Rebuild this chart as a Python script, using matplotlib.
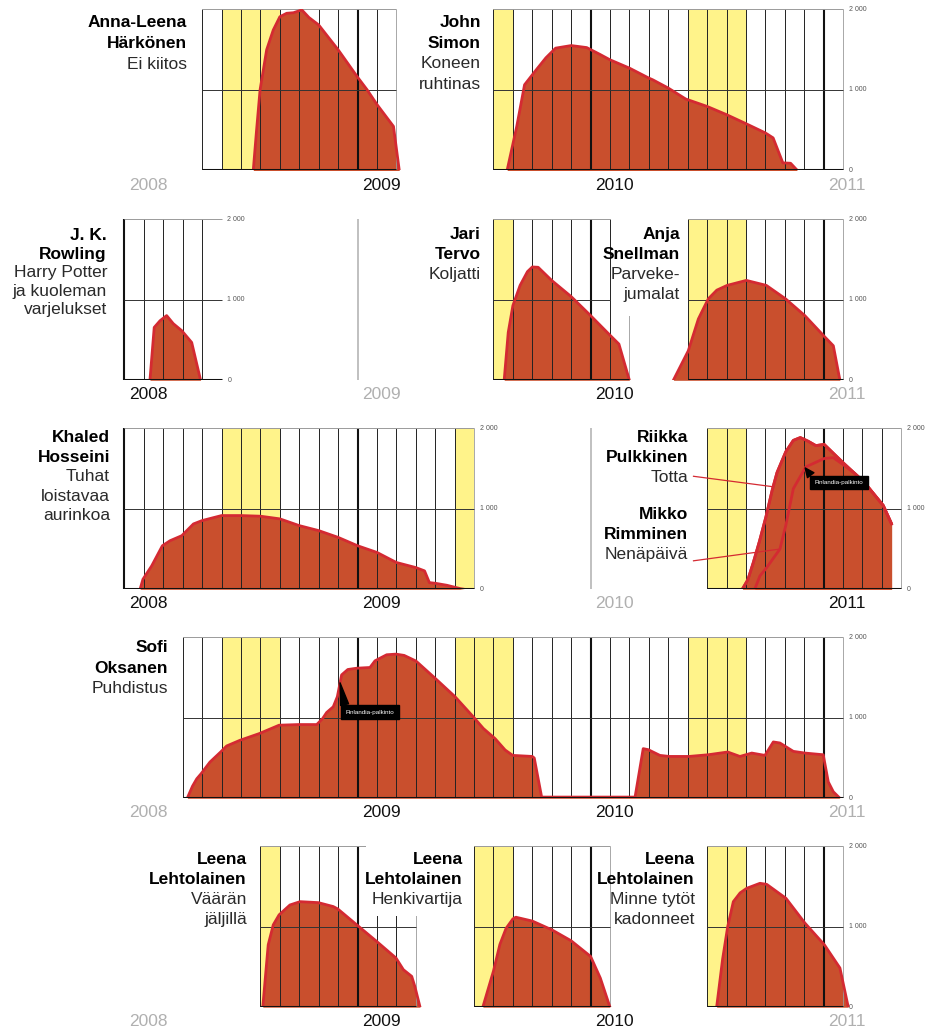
import numpy as np
import matplotlib
matplotlib.use('Agg')
import matplotlib.pyplot as plt
from matplotlib.patches import Rectangle

plt.rcParams['font.family'] = ['Liberation Sans Narrow', 'Liberation Sans', 'DejaVu Sans']

# months counted from 1.1.2008 (0 = Jan 2008, 12 = Jan 2009 ...), sales per week
harkonen_m = [6.63, 6.8, 6.98, 7.32, 7.66, 8.0, 8.35, 8.7, 9.13, 9.5, 10.0, 11.0, 12.0, 12.5, 13.0, 13.5, 13.85, 14.15]
harkonen_v = [0, 500, 1000, 1500, 1745, 1910, 1953, 1960, 1995, 1900, 1808, 1500, 1160, 1000, 820, 660, 548, 0]

simon_m = [19.7, 20.2, 20.6, 21.2, 21.7, 22.2, 23.0, 23.8, 24.5, 25.0, 26.0, 27.0, 27.2, 28.0, 28.9, 30.0, 31.0, 32.0, 33.0, 33.4, 33.9, 34.3, 34.65]
simon_v = [0, 550, 1065, 1250, 1400, 1520, 1552, 1527, 1440, 1375, 1272, 1148, 1127, 1024, 888, 796, 694, 582, 467, 405, 95, 90, 0]

rowling_m = [1.31, 1.53, 1.83, 2.17, 2.51, 2.95, 3.46, 3.92]
rowling_v = [0, 657, 740, 804, 704, 616, 470, 0]

tervo_m = [19.55, 19.76, 20.0, 20.37, 20.75, 21.0, 21.3, 22.0, 23.0, 24.0, 25.0, 25.46, 26.0]
tervo_v = [0, 595, 929, 1179, 1350, 1408, 1404, 1240, 1040, 804, 560, 450, 0]

snellman_m = [28.26, 29.03, 29.55, 30.06, 30.5, 31.03, 32.02, 33.05, 34.04, 35.03, 36.0, 36.5, 36.84]
snellman_v = [0, 366, 762, 1012, 1120, 1179, 1241, 1179, 1012, 804, 554, 429, 0]

hosseini_m = [0.8, 0.95, 1.4, 1.95, 2.35, 2.95, 3.55, 4.0, 5.0, 6.0, 7.0, 8.0, 9.0, 10.0, 11.0, 12.0,
              13.0, 14.0, 15.0, 15.45, 15.7, 16.0, 16.6, 17.3, 17.5]
hosseini_v = [0, 125, 291, 541, 604, 666, 812, 854, 916, 916, 908, 875, 791, 729, 645, 541,
              458, 333, 270, 229, 83, 75, 50, 8, 0]

pulkkinen_m = [31.81, 32.1, 32.38, 32.7, 33.03, 33.35, 33.6, 34.05, 34.44, 34.8, 35.2, 35.6, 36.03, 37.05, 38.08, 39.07, 39.5]
pulkkinen_v = [0, 120, 333, 600, 900, 1230, 1450, 1708, 1850, 1885, 1840, 1785, 1800, 1562, 1333, 1041, 812]

rimminen_m = [32.45, 32.72, 33.07, 33.75, 34.05, 34.44, 35.08, 36.03, 36.5, 37.05, 37.6, 38.08, 39.07, 39.5]
rimminen_v = [0, 166, 270, 500, 791, 1250, 1520, 1625, 1635, 1541, 1440, 1333, 1041, 812]

oksanen_m = [3.23, 3.5, 3.72, 3.94, 4.4, 4.95, 5.26, 5.95, 6.94, 7.96, 8.95, 9.9, 10.2, 10.41, 10.75, 10.96,
             11.18, 11.5, 11.96, 12.64, 12.9, 13.5, 13.98, 14.4, 15.01, 15.99, 17.02, 17.96, 18.48, 19.08,
             19.6, 19.99, 21.0, 21.1, 21.48, 26.29, 26.71, 26.97, 27.57, 28.05, 29.07, 30.06, 31.06, 31.69,
             32.3, 32.98, 33.41, 33.75, 34.44, 35.04, 35.98, 36.24, 36.5, 36.84]
oksanen_v = [0, 150, 242, 304, 450, 575, 650, 721, 804, 908, 916, 916, 990, 1066, 1137, 1262,
             1533, 1600, 1616, 1625, 1708, 1783, 1791, 1775, 1705, 1492, 1262, 1012, 867, 742,
             600, 533, 520, 500, 15, 15, 617, 604, 533, 520, 520, 541, 575, 520,
             562, 533, 700, 687, 583, 562, 541, 204, 81, 0]

lehto1_m = [7.12, 7.4, 7.66, 7.96, 8.52, 9.04, 9.98, 10.75, 10.98, 11.96, 12.99, 13.98, 14.36, 14.79, 14.96, 15.22]
lehto1_v = [0, 775, 1023, 1147, 1270, 1311, 1299, 1250, 1221, 1023, 816, 611, 466, 383, 250, 0]

lehto2_m = [18.45, 19.0, 19.33, 19.65, 20.0, 20.15, 21.0, 22.0, 23.0, 24.0, 24.5, 25.0]
lehto2_v = [0, 450, 780, 980, 1097, 1118, 1070, 962, 825, 631, 363, 0]

lehto3_m = [30.49, 30.8, 31.06, 31.35, 31.7, 32.04, 32.72, 33.07, 34.06, 35.04, 36.04, 36.84, 37.27]
lehto3_v = [0, 600, 1000, 1311, 1420, 1477, 1539, 1526, 1353, 1044, 775, 487, 0]

years = [2008, 2009, 2010, 2011]
year_dark = [[False, True, True, False],
             [True, False, True, False],
             [True, True, False, True],
             [False, True, True, False],
             [False, True, True, False]]
summers = [5, 17, 29]   # June-August
ticks = [(2000, '2 000'), (1000, '1 000'), (0, '0')]

FILL = '#c94f2d'
LINE = '#d42a32'
YELLOW = '#fff38a'

W, H = 926, 1031
X0, MW = 124.5, 19.42        # pixel of 1.1.2008, pixels per month
ROW_TOP = [9.5, 219.3, 428.3, 637.3, 846.2]
ROW_H = 161.0

fig = plt.figure(figsize=(W / 100, H / 100), dpi=100)
fig.patch.set_facecolor('white')


def row_axes(i):
    top = ROW_TOP[i]
    ax = fig.add_axes([0, 1 - (top + ROW_H) / H, 1, ROW_H / H])
    ax.set_xlim(-X0 / MW, (W - X0) / MW)
    ax.set_ylim(0, 2000)
    ax.axis('off')
    for k, y in enumerate(years):
        m = (y - 2008) * 12
        ax.annotate(str(y), xy=(m, 0), xytext=(3.5, -13.8), textcoords='offset points',
                    ha='left', va='baseline', fontsize=12.5, fontstretch='condensed',
                    color='#111111' if year_dark[i][k] else '#b0b0b0', annotation_clip=False)
    return ax


def panel(ax, a, b, with_ticks=False, right_edge=True):
    for s in summers:
        lo, hi = max(a, s), min(b, s + 3)
        if lo < hi:
            ax.axvspan(lo, hi, color=YELLOW, lw=0, zorder=0)
    for m in range(a, b + 1):
        if m == b and m % 12 != 0:
            if right_edge:
                ax.vlines(m, 0, 2000, color='#9a9a9a', lw=0.6, zorder=2)
            continue
        if m % 12 == 0:
            ax.vlines(m, 0, 2000, color='#111111', lw=1.5, zorder=2)
        else:
            ax.vlines(m, 0, 2000, color='#222222', lw=0.7, zorder=2)
    ax.hlines([1000], a, b, color='#333333', lw=0.7, zorder=2)
    ax.hlines([2000], a, b, color='#9a9a9a', lw=0.7, zorder=2)
    ax.hlines(0, a, b, color='#111111', lw=2.2, zorder=4)
    if with_ticks:
        for v, s in ticks:
            ax.text(b + 0.3, v, s, fontsize=5, color='#555555', ha='left', va='center')


def series(ax, m, v):
    ax.fill_between(m, v, 0, color=FILL, lw=0, zorder=1)
    ax.plot(m, v, color=LINE, lw=2.0, zorder=3, solid_joinstyle='round', solid_capstyle='round')


def label(right, top, lines, step=20.0):
    for i, (s, bold) in enumerate(lines):
        fig.text(right / W, 1 - (top + 12.2 + i * step) / H, s, ha='right', va='baseline',
                 fontsize=12.5, fontweight='bold' if bold else 'normal', fontstretch='condensed',
                 color='black' if bold else '#2a2a2a', zorder=5)


def prize(ax, xm, series_m, series_v, tx, ty):
    ax.annotate('Finlandia-palkinto', xy=(xm, np.interp(xm, series_m, series_v)), xytext=(tx, ty),
                ha='center', va='center', fontsize=4.5, color='white', zorder=6,
                bbox=dict(boxstyle='square,pad=0.7', fc='black', ec='black'),
                arrowprops=dict(arrowstyle='wedge,tail_width=1.3', fc='black', ec='black',
                                relpos=(0.0, 1.0), shrinkA=0, shrinkB=0))


# row 1
ax = row_axes(0)
panel(ax, 4, 14)
series(ax, harkonen_m, harkonen_v)
panel(ax, 19, 37, with_ticks=True)
series(ax, simon_m, simon_v)
label(187, 15, [('Anna-Leena', True), ('Härkönen', True), ('Ei kiitos', False)], 20.8)
label(481, 15, [('John', True), ('Simon', True), ('Koneen', False), ('ruhtinas', False)], 20.5)

# row 2
ax = row_axes(1)
panel(ax, 0, 5, with_ticks=True, right_edge=False)
series(ax, rowling_m, rowling_v)
ax.vlines(12, 0, 2000, color='#b5b5b5', lw=1.2)
panel(ax, 19, 26)
series(ax, tervo_m, tervo_v)
panel(ax, 29, 37, with_ticks=True)
series(ax, snellman_m, snellman_v)
label(107, 228.3, [('J. K.', True), ('Rowling', True), ('Harry Potter', False),
                   ('ja kuoleman', False), ('varjelukset', False)], 18.4)
label(481, 226.7, [('Jari', True), ('Tervo', True), ('Koljatti', False)])
fig.add_artist(Rectangle((611 / W, 1 - 316 / H), 76 / W, 104 / H, transform=fig.transFigure,
                         fc='white', ec='none', zorder=2))
label(680, 226.7, [('Anja', True), ('Snellman', True), ('Parveke-', False), ('jumalat', False)])

# row 3
ax = row_axes(2)
panel(ax, 0, 18, with_ticks=True)
series(ax, hosseini_m, hosseini_v)
ax.vlines(24, 0, 2000, color='#b5b5b5', lw=1.2)
panel(ax, 30, 40, with_ticks=True)
series(ax, pulkkinen_m, pulkkinen_v)
series(ax, rimminen_m, rimminen_v)
ax.plot(pulkkinen_m, pulkkinen_v, color=LINE, lw=2.0, zorder=3)
ax.plot([29.3, 33.4], [1404, np.interp(33.4, pulkkinen_m, pulkkinen_v)], color=LINE, lw=0.9, zorder=3)
ax.plot([29.3, 33.75], [354, np.interp(33.75, rimminen_m, rimminen_v)], color=LINE, lw=0.9, zorder=3)
prize(ax, 35.05, rimminen_m, rimminen_v, 36.78, 1326)
label(110, 430, [('Khaled', True), ('Hosseini', True), ('Tuhat', False),
                 ('loistavaa', False), ('aurinkoa', False)], 19.5)
label(688, 430, [('Riikka', True), ('Pulkkinen', True), ('Totta', False)])
label(688, 506.7, [('Mikko', True), ('Rimminen', True), ('Nenäpäivä', False)])

# row 4
ax = row_axes(3)
panel(ax, 3, 37, with_ticks=True)
series(ax, oksanen_m, oksanen_v)
prize(ax, 11.1, oksanen_m, oksanen_v, 12.64, 1072)
label(168, 640, [('Sofi', True), ('Oksanen', True), ('Puhdistus', False)], 20.5)

# row 5
ax = row_axes(4)
panel(ax, 7, 15)
series(ax, lehto1_m, lehto1_v)
panel(ax, 18, 25)
series(ax, lehto2_m, lehto2_v)
panel(ax, 30, 37, with_ticks=True)
series(ax, lehto3_m, lehto3_v)
label(247, 851.7, [('Leena', True), ('Lehtolainen', True), ('Väärän', False), ('jäljillä', False)])
fig.add_artist(Rectangle((366 / W, 1 - 916 / H), 104 / W, 76 / H, transform=fig.transFigure,
                         fc='white', ec='none', zorder=2))
label(463, 851.7, [('Leena', True), ('Lehtolainen', True), ('Henkivartija', False)])
label(695, 851.7, [('Leena', True), ('Lehtolainen', True), ('Minne tytöt', False), ('kadonneet', False)])

fig.savefig('out.png', dpi=100)
